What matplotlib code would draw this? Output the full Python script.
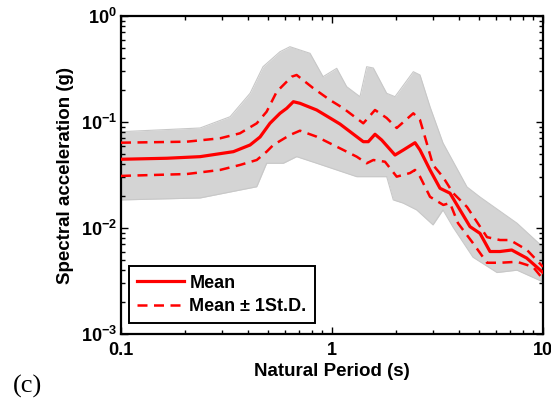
import matplotlib
matplotlib.use("Agg")
import matplotlib.pyplot as plt
from matplotlib.ticker import LogLocator, NullFormatter, FixedLocator, FixedFormatter
import numpy as np

plt.rcParams['font.family'] = ['Liberation Sans', 'DejaVu Sans']
plt.rcParams['mathtext.fontset'] = 'custom'
plt.rcParams['mathtext.rm'] = 'Liberation Sans:bold'
plt.rcParams['mathtext.bf'] = 'Liberation Sans:bold'
plt.rcParams['mathtext.it'] = 'Liberation Sans:bold'

# ---- data ----
mean_T = [0.1, 0.165, 0.237, 0.341, 0.409, 0.456, 0.508, 0.567, 0.610, 0.656, 0.705,
          0.846, 1.015, 1.091, 1.407, 1.486, 1.599, 1.720, 1.989, 2.177, 2.474, 2.613,
          2.914, 3.250, 3.624, 4.043, 4.508, 5.028, 5.608, 6.255, 7.107, 8.371, 10.0]
mean_Sa = [0.0445, 0.0455, 0.0471, 0.0525, 0.0607, 0.0722, 0.0972, 0.1208, 0.1346, 0.1554, 0.1501,
           0.1298, 0.1044, 0.0957, 0.0652, 0.0652, 0.0766, 0.0676, 0.0488, 0.0544, 0.0638, 0.0544,
           0.0353, 0.0237, 0.0213, 0.0148, 0.0103, 0.0089, 0.0060, 0.0060, 0.0062, 0.0052, 0.0038]

upper_T = [0.1, 0.205, 0.295, 0.366, 0.440, 0.490, 0.547, 0.644, 0.680, 0.813, 0.978,
           1.127, 1.407, 1.599, 1.816, 2.026, 2.429, 2.613, 2.811, 3.011, 3.358, 3.746,
           4.363, 5.428, 6.255, 6.976, 8.400, 10.0]
upper_Sa = [0.0638, 0.0652, 0.0702, 0.0782, 0.0972, 0.1251, 0.1931, 0.2676, 0.2776, 0.2093, 0.1612,
            0.1355, 0.0972, 0.1298, 0.1091, 0.0878, 0.1208, 0.1044, 0.0634, 0.0393, 0.0303, 0.0214,
            0.0158, 0.0082, 0.0077, 0.0077, 0.0062, 0.0043]

lower_T = [0.1, 0.205, 0.295, 0.366, 0.440, 0.490, 0.527, 0.632, 0.705, 0.846, 1.053,
           1.309, 1.460, 1.570, 1.783, 2.026, 2.343, 2.474, 2.613, 2.914, 3.369, 3.624,
           3.956, 4.658, 5.428, 6.255, 7.529, 8.966, 10.0]
lower_Sa = [0.0310, 0.0323, 0.0353, 0.0393, 0.0438, 0.0525, 0.0607, 0.0754, 0.0828, 0.0727, 0.0585,
            0.0471, 0.0408, 0.0438, 0.0422, 0.0305, 0.0330, 0.0353, 0.0305, 0.0197, 0.0165, 0.0172,
            0.0111, 0.0072, 0.0047, 0.0047, 0.0048, 0.0043, 0.0033]

# envelope of the individual record spectra (grey band)
env_hi_T = [0.1, 0.237, 0.329, 0.409, 0.471, 0.567, 0.632, 0.787, 0.907, 1.053, 1.174,
            1.357, 1.460, 1.570, 1.816, 1.989, 2.429, 2.613, 2.914, 3.358, 4.363, 5.028, 7.529, 10.0]
env_hi_Sa = [0.0810, 0.0878, 0.1122, 0.1866, 0.3324, 0.4605, 0.5133, 0.4446, 0.2676, 0.3210, 0.2153,
             0.1733, 0.3324, 0.3231, 0.1866, 0.1733, 0.2982, 0.2776, 0.1394, 0.0634, 0.0244, 0.0196, 0.0111, 0.0066]
env_lo_T = [0.1, 0.237, 0.366, 0.440, 0.490, 0.588, 0.680, 0.846, 1.309, 1.816, 1.952,
            2.170, 2.520, 3.011, 3.358, 3.746, 4.658, 6.053, 7.529, 10.0]
env_lo_Sa = [0.0184, 0.0192, 0.0228, 0.0245, 0.0408, 0.0408, 0.0471, 0.0408, 0.0305, 0.0305, 0.0184,
             0.0172, 0.0148, 0.0107, 0.0148, 0.0102, 0.0053, 0.0038, 0.0040, 0.0031]

x_ticks = [0.1, 1, 10]
x_ticklabels = ['0.1', '1', '10']
y_ticks = [1e-3, 1e-2, 1e-1, 1]
y_ticklabels = [r'$10^{-3}$', r'$10^{-2}$', r'$10^{-1}$', r'$10^{0}$']

# ---- figure ----
fig = plt.figure(figsize=(5.51, 3.98), dpi=100)
ax = fig.add_axes([121/551, 1 - 334/398, (543-121)/551, (334-16)/398])
ax.set_xscale('log')
ax.set_yscale('log')

# grey band: common grid in log-period for fill
grid = np.logspace(-1, 1, 400)
hi = np.exp(np.interp(np.log(grid), np.log(env_hi_T), np.log(env_hi_Sa)))
lo = np.exp(np.interp(np.log(grid), np.log(env_lo_T), np.log(env_lo_Sa)))
ax.fill_between(grid, lo, hi, color='#d4d4d4', lw=0, zorder=1)
ax.plot(env_hi_T, env_hi_Sa, color='#c8c8c8', lw=0.8, zorder=1.5)
ax.plot(env_lo_T, env_lo_Sa, color='#c8c8c8', lw=0.8, zorder=1.5)

dash = (0, (4, 2.6))
ax.plot(mean_T, mean_Sa, color='red', lw=2.3, zorder=3, label='Mean')
ax.plot(upper_T, upper_Sa, color='red', lw=1.8, ls=dash, zorder=3,
        label='Mean \u00b1 1St.D.')
ax.plot(lower_T, lower_Sa, color='red', lw=1.8, ls=dash, zorder=3)

ax.set_xlim(0.1, 10)
ax.set_ylim(1e-3, 1)

ax.xaxis.set_major_locator(FixedLocator(x_ticks))
ax.xaxis.set_major_formatter(FixedFormatter(x_ticklabels))
ax.yaxis.set_major_locator(FixedLocator(y_ticks))
ax.yaxis.set_major_formatter(FixedFormatter(y_ticklabels))
ax.xaxis.set_minor_locator(LogLocator(base=10, subs=np.arange(2, 10)))
ax.yaxis.set_minor_locator(LogLocator(base=10, subs=np.arange(2, 10)))
ax.xaxis.set_minor_formatter(NullFormatter())
ax.yaxis.set_minor_formatter(NullFormatter())

ax.tick_params(which='both', direction='in', top=True, right=True, width=1.0)
ax.tick_params(which='major', length=5)
ax.tick_params(which='minor', length=3)
ax.tick_params(axis='x', which='major', pad=6, labelsize=13)
ax.tick_params(axis='y', which='major', pad=3, labelsize=13)
for lab in ax.get_xticklabels():
    lab.set_fontweight('bold')
for sp in ax.spines.values():
    sp.set_linewidth(1.6)

ax.set_xlabel('Natural Period (s)', fontsize=13.5, fontweight='bold', labelpad=3)
ax.set_ylabel('Spectral acceleration (g)', fontsize=13.5, fontweight='bold', labelpad=5)

leg = ax.legend(loc='lower left', bbox_to_anchor=(8/422, 11/318), prop={'weight': 'bold', 'size': 13},
                frameon=True, fancybox=False, handlelength=2.6, borderpad=0.45,
                labelspacing=0.35, handletextpad=0.3, borderaxespad=0)
leg.get_frame().set_edgecolor('black')
leg.get_frame().set_linewidth(1.4)
leg.get_frame().set_alpha(1)

fig.text(13/551, 1 - 393/398, '(c)', fontsize=19, family=['Liberation Serif', 'DejaVu Serif'],
         va='baseline', ha='left')

fig.savefig('out.png', dpi=100)
